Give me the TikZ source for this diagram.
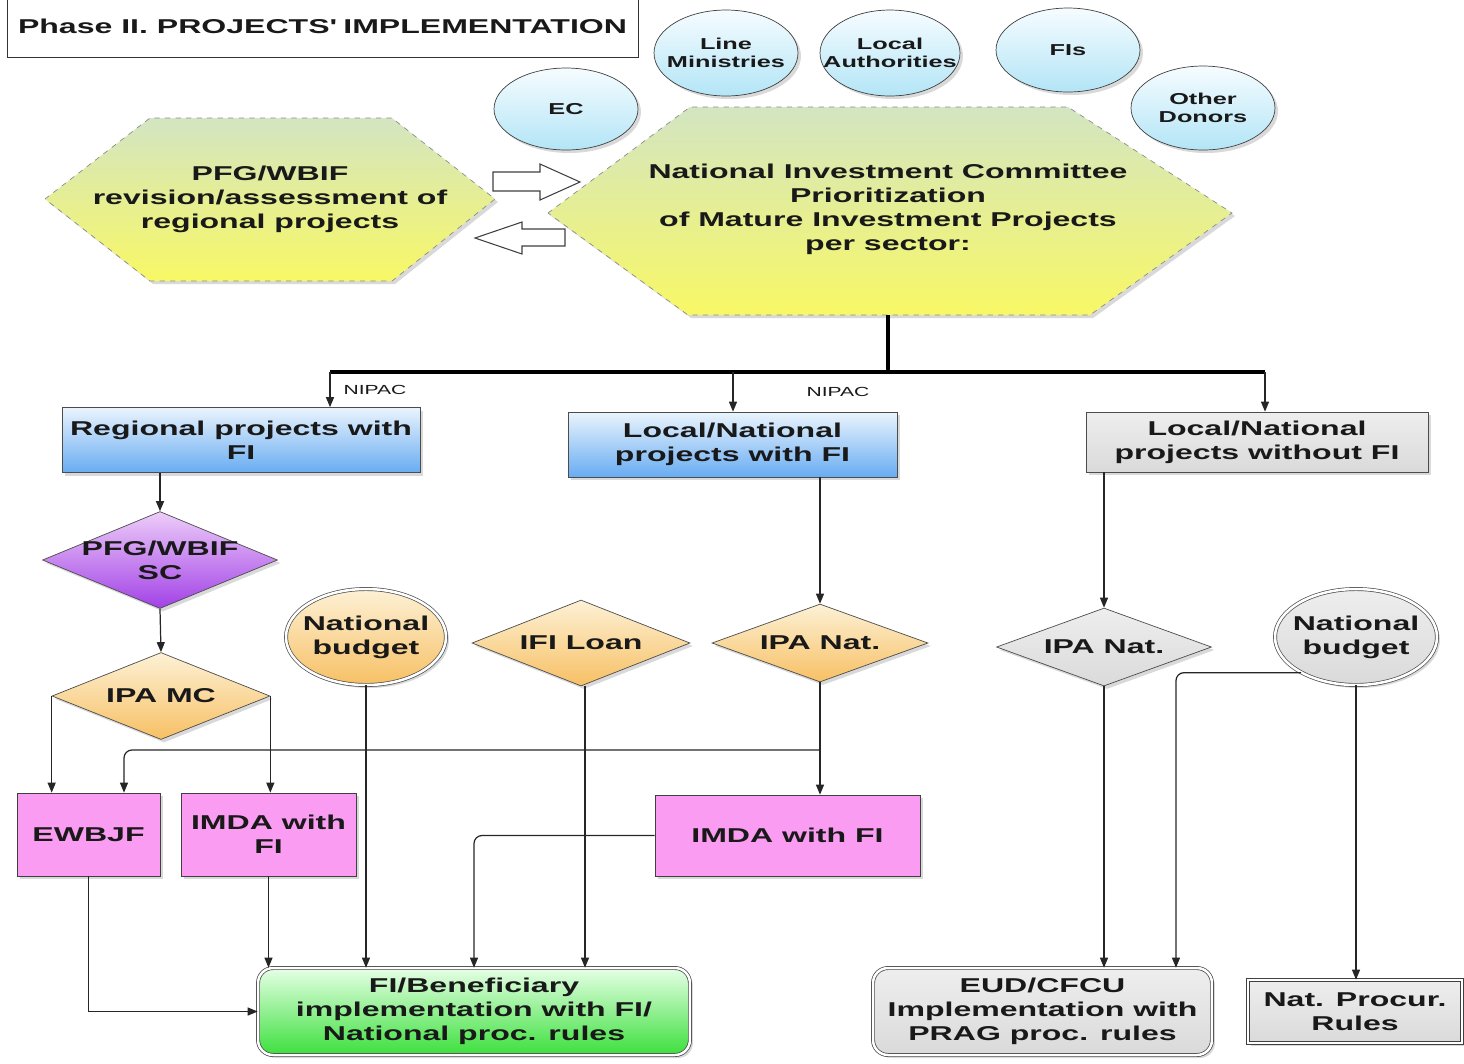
\documentclass[tikz,border=0pt]{standalone}
\usepackage{fontspec}
\setmainfont{Liberation Sans}[FakeStretch=1.6]
\usetikzlibrary{shapes.geometric,arrows.meta,shadows}

\definecolor{hexTop}{HTML}{D3E5C2}
\definecolor{hexBot}{HTML}{F8F865}
\definecolor{cloudTop}{HTML}{F6FCFF}
\definecolor{cloudBot}{HTML}{B3E5F6}
\definecolor{blueTop}{HTML}{EAF4FD}
\definecolor{blueBot}{HTML}{68ACF2}
\definecolor{greyTop}{HTML}{EEEEEE}
\definecolor{greyBot}{HTML}{DADADA}
\definecolor{pinkFill}{HTML}{F99CF2}
\definecolor{orTop}{HTML}{FDF1D6}
\definecolor{orBot}{HTML}{F7C064}
\definecolor{purTop}{HTML}{EDCDF9}
\definecolor{purBot}{HTML}{A241E6}
\definecolor{grTop}{HTML}{E6FFE6}
\definecolor{grBot}{HTML}{3CE03C}

\begin{document}
\begin{tikzpicture}[x=0.02cm,y=-0.02cm,
    every node/.style={font=\bfseries\fontsize{11.4}{13.7}\selectfont,align=center,text=black!90},
    smalltxt/.style={font=\bfseries\fontsize{9}{10.5}\selectfont},
    nipac/.style={font=\fontsize{7.5}{9}\selectfont},
    shdw/.style={drop shadow={opacity=0.3,shadow xshift=0.06cm,shadow yshift=-0.06cm}},
    hexa/.style={shdw,draw=black!45,dashed,top color=hexTop,bottom color=hexBot},
    actor/.style={shdw,ellipse,draw=black!75,top color=cloudTop,bottom color=cloudBot,inner sep=0pt},
    bluebox/.style={shdw,rectangle,draw=black!70,top color=blueTop,bottom color=blueBot,inner sep=2pt},
    greybox/.style={shdw,rectangle,draw=black!70,top color=greyTop,bottom color=greyBot,inner sep=2pt},
    pinkbox/.style={shdw,rectangle,draw=black!75,fill=pinkFill,inner sep=2pt},
    orangedia/.style={shdw,diamond,draw=black!70,top color=orTop,bottom color=orBot,inner sep=0pt},
    greydia/.style={shdw,diamond,draw=black!70,top color=greyTop,bottom color=greyBot,inner sep=0pt},
    purpledia/.style={shdw,diamond,draw=black!70,top color=purTop,bottom color=purBot,inner sep=0pt},
    budget/.style={shdw,ellipse,draw=black!70,double,double distance=0.05cm,inner sep=0pt},
    arr/.style={draw=black!85,line width=0.7pt,-{Triangle[length=0.2cm,width=0.16cm]}},
    trunk/.style={draw=black,line width=2.6pt},
    blockarr/.style={draw=black!75,fill=white,line width=0.6pt}]

\useasboundingbox (0,0) rectangle (1464,1063);

% title
\node[draw=black!80,fill=white,minimum width=12.62cm,minimum height=1.24cm,inner sep=2pt] (title) at (322.5,26) {Phase II. PROJECTS\textquotesingle{} IMPLEMENTATION};

% actors
\node[actor,minimum width=2.88cm,minimum height=1.64cm,label={[smalltxt]center:EC}] (ec) at (566,109) {};
\node[actor,minimum width=2.88cm,minimum height=1.72cm,label={[smalltxt]center:Line\\Ministries}] (lm) at (726,53) {};
\node[actor,minimum width=2.80cm,minimum height=1.72cm,label={[smalltxt]center:Local\\Authorities}] (la) at (890,53) {};
\node[actor,minimum width=2.88cm,minimum height=1.68cm,label={[smalltxt]center:FIs}] (fis) at (1068,50) {};
\node[actor,minimum width=2.88cm,minimum height=1.68cm,label={[smalltxt]center:Other\\Donors}] (od) at (1203,108) {};

% hexagons
\path[hexa] (45,199) -- (150,118) -- (392,118) -- (495,199) -- (392,281) -- (150,281) -- cycle;
\node (pfg) at (270,199) {PFG/WBIF\\revision/assessment of\\regional projects};
\path[hexa] (548,213) -- (690,107) -- (1068,107) -- (1232,213) -- (1090,315) -- (688,315) -- cycle;
\node (nic) at (888,209) {National Investment Committee\\Prioritization\\of Mature Investment Projects\\per sector:};
\coordinate (nicbot) at (888,315);

% exchange arrows
\path[blockarr] (493,172) -- (540,172) -- (540,164) -- (580,182) -- (540,200) -- (540,191) -- (493,191) -- cycle;
\path[blockarr] (565,229) -- (522,229) -- (522,222) -- (475,238) -- (522,254) -- (522,246) -- (565,246) -- cycle;

% project groups
\node[bluebox,minimum width=7.16cm,minimum height=1.30cm] (reg) at (241,440) {Regional projects with\\FI};
\node[bluebox,minimum width=6.58cm,minimum height=1.30cm] (lnfi) at (732.5,444.5) {Local/National\\projects with FI};
\node[greybox,minimum width=6.84cm,minimum height=1.20cm] (lnno) at (1257,442) {Local/National\\projects without FI};
\node[nipac] (nipacA) at (375,390) {NIPAC};
\node[nipac] (nipacB) at (838,392) {NIPAC};

% decisions
\node[purpledia,minimum width=4.70cm,minimum height=1.94cm,label={center:PFG/WBIF\\SC}] (sc) at (160,560) {};
\node[orangedia,minimum width=4.36cm,minimum height=1.74cm,label={center:IPA MC}] (mc) at (161,696) {};
\node[orangedia,minimum width=4.36cm,minimum height=1.72cm,label={center:IFI Loan}] (ifi) at (581,643) {};
\node[orangedia,minimum width=4.32cm,minimum height=1.56cm,label={center:IPA Nat.}] (ipan) at (820,643) {};
\node[greydia,minimum width=4.30cm,minimum height=1.56cm,label={center:IPA Nat.}] (ipag) at (1104,647) {};

% budgets
\node[budget,top color=orTop,bottom color=orBot,minimum width=3.20cm,minimum height=1.92cm,label={center:National\\budget}] (nbA) at (366,637) {};
\node[budget,top color=greyTop,bottom color=greyBot,minimum width=3.24cm,minimum height=1.92cm,label={center:National\\budget}] (nbB) at (1356,637) {};

% implementing bodies
\node[pinkbox,minimum width=2.86cm,minimum height=1.66cm] (ewbjf) at (88.5,834.5) {EWBJF};
\node[pinkbox,minimum width=3.50cm,minimum height=1.66cm] (imdaA) at (268.5,834.5) {IMDA with\\FI};
\node[pinkbox,minimum width=5.30cm,minimum height=1.62cm] (imdaB) at (787.5,835.5) {IMDA with FI};

% implementation
\node[shdw,draw=black!75,double,double distance=0.05cm,rounded corners=0.3cm,top color=grTop,bottom color=grBot,minimum width=8.64cm,minimum height=1.74cm,inner sep=2pt] (ben) at (474,1011.5) {FI/Beneficiary\\implementation with FI/\\National proc. rules};
\node[shdw,draw=black!75,double,double distance=0.05cm,rounded corners=0.3cm,top color=greyTop,bottom color=greyBot,minimum width=6.78cm,minimum height=1.74cm,inner sep=2pt] (eud) at (1042.5,1011.5) {EUD/CFCU\\Implementation with\\PRAG proc. rules};
\node[shdw,draw=black!75,double,double distance=0.04cm,top color=greyTop,bottom color=greyBot,minimum width=4.28cm,minimum height=1.26cm,inner sep=2pt] (npr) at (1355,1011.5) {Nat. Procur.\\Rules};

% distribution bar
\coordinate (bus) at (888,372);
\coordinate (busL) at (330,372);
\coordinate (busM) at (733,372);
\coordinate (busR) at (1265,372);
\draw[trunk] (nicbot) -- (bus);
\draw[trunk] (busL) -- (busR);
\draw[arr] (busL) -- (busL |- reg.north);
\draw[arr] (busM) -- (busM |- lnfi.north);
\draw[arr] (busR) -- (busR |- lnno.north);

% regional branch
\draw[arr] (reg.south -| sc.north) -- (sc.north);
\draw[arr] (sc.south) -- (mc.north);
\draw[arr] (mc.west) -- (mc.west |- ewbjf.north);
\draw[arr] (mc.east) -- (mc.east |- imdaA.north);

% national branch with FI
\draw[arr] (lnfi.south -| ipan.north) -- (ipan.north);
\draw[arr] (ipan.south) -- (ipan.south |- imdaB.north);
\coordinate (split) at (820,750);
\draw[arr,rounded corners=0.16cm] (split) -| ([xshift=0.71cm]ewbjf.north);

% into beneficiary
\draw[arr] (ewbjf.south) |- (ben.west);
\draw[arr] (imdaA.south) -- (imdaA.south |- ben.north);
\draw[arr] (nbA.south) -- (nbA.south |- ben.north);
\draw[arr] ([xshift=0.08cm]ifi.south) -- ([xshift=0.08cm]ifi.south |- ben.north);
\draw[arr,rounded corners=0.16cm] (imdaB.west) -| (ben.north);

% national branch without FI
\draw[arr] (lnno.south -| ipag.north) -- (ipag.north);
\draw[arr] (ipag.south) -- (ipag.south |- eud.north);
\draw[arr,rounded corners=0.16cm] (nbB.-147) -| ([xshift=2.67cm]eud.north);
\draw[arr] (nbB.south) -- (nbB.south |- npr.north);
\end{tikzpicture}
\end{document}
